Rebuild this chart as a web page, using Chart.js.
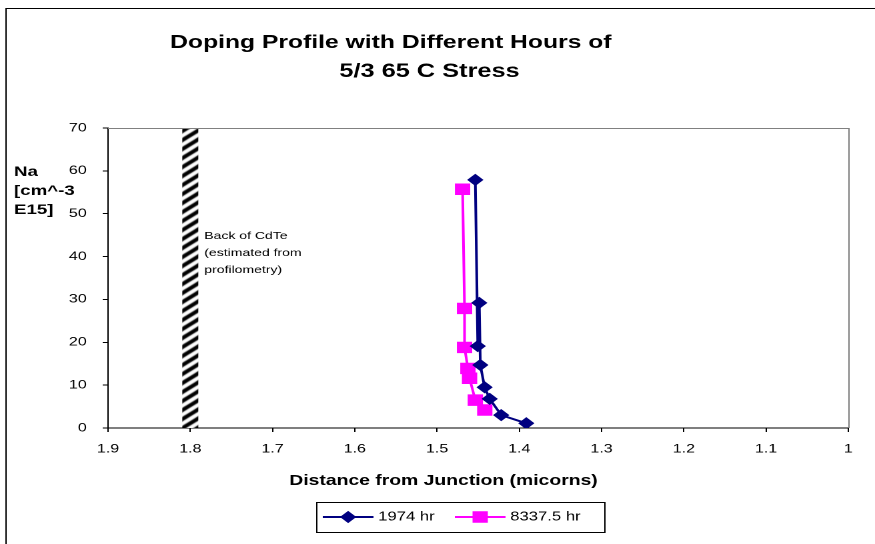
<!DOCTYPE html>
<html>
<head>
<meta charset="utf-8">
<script src="https://cdn.jsdelivr.net/npm/chart.js@4.4.1/dist/chart.umd.min.js"></script>
<style>
  html, body { margin: 0; padding: 0; background: #fff; }
</style>
</head>
<body>
<!-- the plot is laid out on a 656 px wide canvas and shown stretched to 875 px -->
<canvas id="chart" width="656" height="544" style="display:block;width:875px;height:544px"></canvas>
<script>
// distance from junction (microns) and Na (cm^-3 E15)
const hrs1974X = [1.4535, 1.4505, 1.4487, 1.4474, 1.4422, 1.436, 1.422, 1.3915];
const hrs1974Y = [57.9, 19.1, 29.2, 14.7, 9.5, 6.8, 3.0, 1.1];

const hrs8337X = [1.469, 1.4666, 1.4666, 1.4625, 1.4605, 1.4535, 1.442];
const hrs8337Y = [55.7, 27.9, 18.8, 13.9, 11.6, 6.5, 4.2];

const seriesLabels = ['1974 hr', '8337.5 hr'];

// back of the CdTe layer
const backX = [1.8, 1.8];
const backY = [0, 70];

const xTickValues = [1.9, 1.8, 1.7, 1.6, 1.5, 1.4, 1.3, 1.2, 1.1, 1.0];
const xTickLabels = ['1.9', '1.8', '1.7', '1.6', '1.5', '1.4', '1.3', '1.2', '1.1', '1'];
const yTickValues = [0, 10, 20, 30, 40, 50, 60, 70];
const yTickLabels = ['0', '10', '20', '30', '40', '50', '60', '70'];

const FONT = '"Liberation Sans", Arial, sans-serif';

const toPoints = (xs, ys) => xs.map((x, i) => ({ x: x, y: ys[i] }));

// black/white diagonal hatch for the CdTe back edge
function makeHatch() {
    const w = 11, h = 9;
    const c = document.createElement('canvas');
    c.width = w;
    c.height = h;
    const g = c.getContext('2d');
    g.fillStyle = '#fff';
    g.fillRect(0, 0, w, h);
    g.strokeStyle = '#000';
    g.lineWidth = 3.6;
    for (let k = -2; k <= 2; k++) {
        g.beginPath();
        g.moveTo(-w, 2 * h + h * k);
        g.lineTo(2 * w, h * k - h);
        g.stroke();
    }
    return g.createPattern(c, 'repeat');
}

function drawText(ctx, str, x, y, font, align) {
    ctx.save();
    ctx.font = font;
    ctx.fillStyle = '#000';
    ctx.textAlign = align || 'left';
    ctx.textBaseline = 'middle';
    ctx.fillText(str, x, y);
    ctx.restore();
}

const decorations = {
    id: 'decorations',
    beforeDraw(chart) {
        const ctx = chart.ctx;
        ctx.save();
        ctx.fillStyle = '#fff';
        ctx.fillRect(0, 0, chart.width, chart.height);
        // outer frame
        ctx.strokeStyle = '#000';
        ctx.lineWidth = 1;
        ctx.beginPath();
        ctx.moveTo(4.5, chart.height + 5);
        ctx.lineTo(4.5, 8.5);
        ctx.lineTo(chart.width + 5, 8.5);
        ctx.stroke();
        ctx.restore();
    },
    afterDatasetsDraw(chart) {
        const ctx = chart.ctx;
        const a = chart.chartArea;
        // top and right edge of the plot area
        ctx.save();
        ctx.strokeStyle = '#808080';
        ctx.lineWidth = 1;
        ctx.beginPath();
        ctx.moveTo(a.left, a.top + 0.5);
        ctx.lineTo(a.right + 0.5, a.top + 0.5);
        ctx.lineTo(a.right + 0.5, a.bottom);
        ctx.stroke();
        ctx.restore();
    },
    afterDraw(chart) {
        const ctx = chart.ctx;
        const xs = chart.scales.x;
        const ys = chart.scales.y;

        drawText(ctx, 'Doping Profile with Different Hours of', 293, 43, 'bold 18.5px ' + FONT, 'center');
        drawText(ctx, '5/3 65 C Stress', 322, 72, 'bold 19px ' + FONT, 'center');

        const yTitle = ['Na', '[cm^-3', 'E15]'];
        yTitle.forEach((t, i) => drawText(ctx, t, 10.5, 172 + i * 19, 'bold 14px ' + FONT, 'left'));

        drawText(ctx, 'Distance from Junction (micorns)', (xs.left + xs.right) / 2 - 26, 481, 'bold 14.5px ' + FONT, 'center');

        // note beside the hatched edge
        const nx = xs.getPixelForValue(1.8) + 10.5;
        const ny = ys.getPixelForValue(70) + 108;
        ['Back of CdTe', '(estimated from', 'profilometry)'].forEach((t, i) =>
            drawText(ctx, t, nx, ny + i * 17, '10.5px ' + FONT, 'left'));

        // legend
        ctx.save();
        ctx.strokeStyle = '#000';
        ctx.lineWidth = 1;
        ctx.strokeRect(237.5, 502.5, 216, 30);
        ctx.restore();
        const items = chart.data.datasets.slice(0, 2);
        const starts = [242, 341];
        items.forEach((ds, i) => {
            const x0 = starts[i];
            const y0 = 517;
            ctx.save();
            ctx.strokeStyle = ds.borderColor;
            ctx.lineWidth = ds.borderWidth;
            ctx.beginPath();
            ctx.moveTo(x0, y0);
            ctx.lineTo(x0 + 38, y0);
            ctx.stroke();
            ctx.fillStyle = ds.pointBackgroundColor;
            ctx.strokeStyle = ds.borderColor;
            Chart.helpers.drawPoint(ctx, {
                pointStyle: ds.pointStyle,
                radius: ds.pointRadius,
                rotation: 0,
                borderWidth: 1
            }, x0 + 19, y0);
            ctx.restore();
            drawText(ctx, seriesLabels[i], x0 + 41.5, y0, '12.5px ' + FONT, 'left');
        });
    }
};

new Chart(document.getElementById('chart'), {
    type: 'scatter',
    data: {
        datasets: [
            {
                label: seriesLabels[0],
                data: toPoints(hrs1974X, hrs1974Y),
                showLine: true,
                borderColor: '#000080',
                backgroundColor: '#000080',
                pointBackgroundColor: '#000080',
                borderWidth: 2,
                pointStyle: 'rectRot',
                pointRadius: 4.7,
                order: 1
            },
            {
                label: seriesLabels[1],
                data: toPoints(hrs8337X, hrs8337Y),
                showLine: true,
                borderColor: '#ff00ff',
                backgroundColor: '#ff00ff',
                pointBackgroundColor: '#ff00ff',
                borderWidth: 2,
                pointStyle: 'rect',
                pointRadius: 6.7,
                order: 2
            },
            {
                label: 'Back of CdTe',
                data: toPoints(backX, backY),
                showLine: true,
                borderColor: makeHatch(),
                borderWidth: 12,
                borderCapStyle: 'butt',
                pointRadius: 0,
                order: 3
            }
        ]
    },
    options: {
        responsive: false,
        animation: false,
        devicePixelRatio: 2,
        layout: { padding: { top: 128, right: 20, left: 0, bottom: 0 } },
        plugins: {
            legend: { display: false },
            title: { display: false },
            tooltip: { enabled: false }
        },
        scales: {
            x: {
                type: 'linear',
                min: 1,
                max: 1.9,
                reverse: true,
                afterBuildTicks: s => { s.ticks = xTickValues.map(v => ({ value: v })); },
                afterFit: s => { s.height = 116; },
                ticks: {
                    callback: (v, i) => xTickLabels[i],
                    color: '#000',
                    font: { family: FONT, size: 12 },
                    padding: 10,
                    maxRotation: 0,
                    autoSkip: false
                },
                grid: { drawOnChartArea: false, drawTicks: true, tickLength: 4, color: '#000' },
                border: { color: '#000', width: 1 }
            },
            y: {
                type: 'linear',
                min: 0,
                max: 70,
                afterBuildTicks: s => { s.ticks = yTickValues.map(v => ({ value: v })); },
                afterFit: s => { s.width = 81; },
                ticks: {
                    callback: (v, i) => yTickLabels[i],
                    color: '#000',
                    font: { family: FONT, size: 12 },
                    padding: 12,
                    autoSkip: false
                },
                grid: { drawOnChartArea: false, drawTicks: true, tickLength: 4, color: '#000' },
                border: { color: '#000', width: 1 }
            }
        }
    },
    plugins: [decorations]
});
</script>
</body>
</html>
